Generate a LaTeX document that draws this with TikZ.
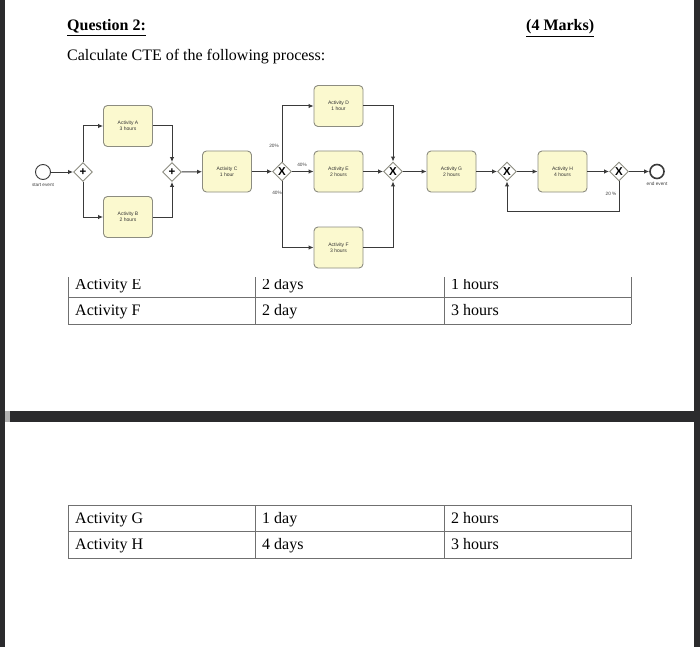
\documentclass[tikz,border=0pt]{standalone}
\usepackage{fontspec}
\setmainfont{Liberation Serif}
\newfontfamily\diafont{Liberation Sans}
\usetikzlibrary{shapes.geometric,arrows.meta}
\definecolor{frame}{HTML}{2B2B2D}
\definecolor{boxfill}{HTML}{FBF9CF}
\definecolor{boxline}{HTML}{8C8C80}
\definecolor{flow}{HTML}{3A3A3A}
\definecolor{tblline}{HTML}{707070}
\begin{document}
\begin{tikzpicture}[x=1pt,y=-1pt,
 act/.style={draw=boxline,fill=boxfill,rounded corners=4pt,minimum width=49pt,minimum height=41pt,inner sep=0pt,align=center,font=\diafont\fontsize{5}{5.8}\selectfont,text=black!80,line width=0.9pt},
 gw/.style={diamond,draw=boxline,fill=white,minimum size=19pt,inner sep=0pt,line width=0.9pt,font=\diafont\bfseries\fontsize{11.5}{11.5}\selectfont},
 ev/.style={circle,draw=flow,fill=white,minimum size=15pt,inner sep=0pt,line width=0.9pt},
 flowline/.style={draw=flow,line width=1pt,-{Latex[length=5pt,width=4.5pt]}},
 tinytext/.style={font=\diafont\fontsize{4.7}{5}\selectfont,text=black!75,inner sep=0pt},
 cell/.style={anchor=base west,font=\fontsize{16}{16}\selectfont,inner sep=0pt},
 tbl/.style={draw=tblline,line width=0.9pt}
]
% page and frame
\fill[white] (0,0) rectangle (700,647);
\fill[frame] (0,0) rectangle (5,647);
\fill[frame] (694,0) rectangle (700,647);
\fill[frame] (5,411) rectangle (694,422);
\fill[gray!60] (5,411) rectangle (10,422);
\useasboundingbox (0,0) rectangle (700,647);

% heading
\node[anchor=base west,inner sep=0pt,font=\bfseries\fontsize{16}{16}\selectfont] (q) at (67,31) {\underline{Question 2:}};
\node[anchor=base west,inner sep=0pt,font=\bfseries\fontsize{16}{16}\selectfont] (marks) at (526,31) {\underline{(4 Marks)}};
\node[anchor=base west,inner sep=0pt,font=\fontsize{16}{16}\selectfont] (calc) at (67,61) {Calculate CTE of the following process:};

% diagram nodes
\node[ev] (start) at (43,172) {};
\node[tinytext] (startlbl) at (43,185) {start event};
\node[gw] (pg1) at (83,172) {+};
\node[act] (A) at (128,126) {Activity A\\3 hours};
\node[act] (B) at (128,217) {Activity B\\2 hours};
\node[gw] (pg2) at (172,172) {+};
\node[act] (C) at (227,171.5) {Activity C\\1 hour};
\node[gw] (xg1) at (282,171.5) {X};
\node[act] (D) at (338.5,106) {Activity D\\1 hour};
\node[act] (E) at (338.5,171.5) {Activity E\\2 hours};
\node[act] (F) at (338.5,247.5) {Activity F\\3 hours};
\node[gw] (xg2) at (393,171.5) {X};
\node[act] (G) at (451.5,171.5) {Activity G\\2 hours};
\node[gw] (xg3) at (507,171.5) {X};
\node[act] (H) at (562.5,171.5) {Activity H\\4 hours};
\node[gw] (xg4) at (619,171.5) {X};
\node[ev,line width=1.6pt,minimum size=14pt] (end) at (657,171.5) {};
\node[tinytext] (endlbl) at (657,184) {end event};
\coordinate (lp) at (619,211);

% edge labels
\node[tinytext] (l20) at (274,146) {20\%};
\node[tinytext] (l40a) at (302,165) {40\%};
\node[tinytext] (l40b) at (277,193) {40\%};
\node[tinytext] (l20b) at (611,194) {20 \%};

% flows
\draw[flowline] (start) -- (pg1);
\draw[flowline] (pg1.north) |- (A.west);
\draw[flowline] (pg1.south) |- (B.west);
\draw[flowline] (A.east) -| (pg2.north);
\draw[flowline] (B.east) -| (pg2.south);
\draw[flowline] (pg2) -- (C);
\draw[flowline] (C) -- (xg1);
\draw[flowline] (xg1.north) |- (D.west);
\draw[flowline] (xg1) -- (E);
\draw[flowline] (xg1.south) |- (F.west);
\draw[flowline] (D.east) -| (xg2.north);
\draw[flowline] (E) -- (xg2);
\draw[flowline] (F.east) -| (xg2.south);
\draw[flowline] (xg2) -- (G);
\draw[flowline] (G) -- (xg3);
\draw[flowline] (xg3) -- (H);
\draw[flowline] (H) -- (xg4);
\draw[flowline] (xg4) -- (end);
\draw[flowline] (xg4.south) -- (lp) -| (xg3.south);

% top table (partly cut)
\draw[tbl] (68,277) -- (68,324) (255,277) -- (255,324) (444,277) -- (444,324) (631,277) -- (631,324);
\draw[tbl] (68,297.5) -- (631,297.5) (68,324) -- (631,324);
\begin{scope}
\clip (60,279) rectangle (640,330);
\node[cell] (e1) at (75,289) {Activity E};
\node[cell] (e2) at (262,289) {2 days};
\node[cell] (e3) at (451,289) {1 hours};
\end{scope}
\node[cell] (f1) at (75,315) {Activity F};
\node[cell] (f2) at (262,315) {2 day};
\node[cell] (f3) at (451,315) {3 hours};

% bottom table
\draw[tbl] (68,505) rectangle (631,558);
\draw[tbl] (68,531.5) -- (631,531.5) (255,505) -- (255,558) (444,505) -- (444,558);
\node[cell] (g1) at (75,523) {Activity G};
\node[cell] (g2) at (262,523) {1 day};
\node[cell] (g3) at (451,523) {2 hours};
\node[cell] (h1) at (75,549) {Activity H};
\node[cell] (h2) at (262,549) {4 days};
\node[cell] (h3) at (451,549) {3 hours};
\end{tikzpicture}
\end{document}
